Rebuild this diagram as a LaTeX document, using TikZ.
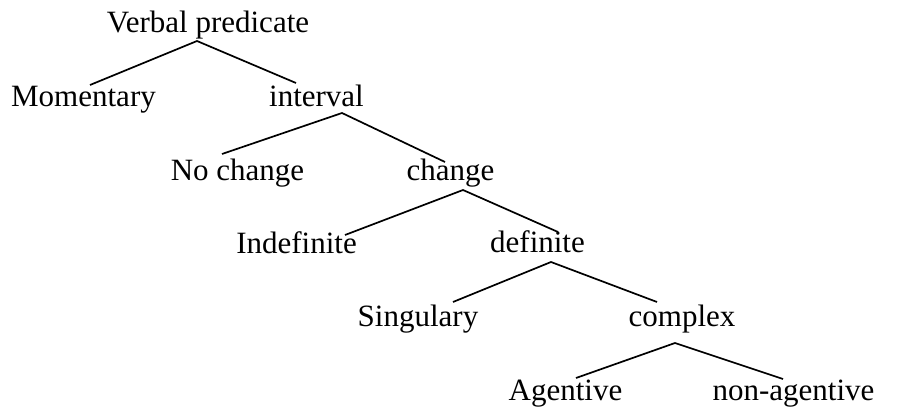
\documentclass[tikz,border=0pt]{standalone}
\usepackage{fontspec}
\setmainfont{Liberation Serif}
\tikzset{
  lbl/.style={anchor=base, inner sep=0pt, font=\fontsize{31}{37}\selectfont},
  edge/.style={line width=1.7pt}
}
\begin{document}
\begin{tikzpicture}[x=1pt,y=-1pt]
\useasboundingbox (0,0) rectangle (924,411);
\node[lbl] (vp) at (208,33) {Verbal predicate};
\node[lbl] (mom) at (83.5,107) {Momentary};
\node[lbl] (int) at (316.5,107) {interval};
\node[lbl] (noc) at (237.5,181) {No change};
\node[lbl] (chg) at (450.5,181) {change};
\node[lbl] (ind) at (296.5,254) {Indefinite};
\node[lbl] (def) at (537.5,253) {definite};
\node[lbl] (sing) at (418,327) {Singulary};
\node[lbl] (cpx) at (682,327) {complex};
\node[lbl] (agt) at (565.5,401) {Agentive};
\node[lbl] (nagt) at (793.5,401) {non-agentive};
% apexes and line ends
\coordinate (vpA) at (197,41);
\coordinate (momE) at (90,85);
\coordinate (intE) at (296,83);
\coordinate (intA) at (342,113);
\coordinate (nocE) at (222,154);
\coordinate (chgE) at (445,162);
\coordinate (chgA) at (463,190);
\coordinate (indE) at (345,235);
\coordinate (defE) at (558,232);
\coordinate (defA) at (551,262);
\coordinate (singE) at (453,302);
\coordinate (cpxE) at (657,302);
\coordinate (cpxA) at (675,343);
\coordinate (agtE) at (576,378);
\coordinate (nagtE) at (783,379);
\draw[edge] (momE) -- (vpA) -- (intE);
\draw[edge] (nocE) -- (intA) -- (chgE);
\draw[edge] (indE) -- (chgA) -- (defE);
\draw[edge] (singE) -- (defA) -- (cpxE);
\draw[edge] (agtE) -- (cpxA) -- (nagtE);
\end{tikzpicture}
\end{document}
